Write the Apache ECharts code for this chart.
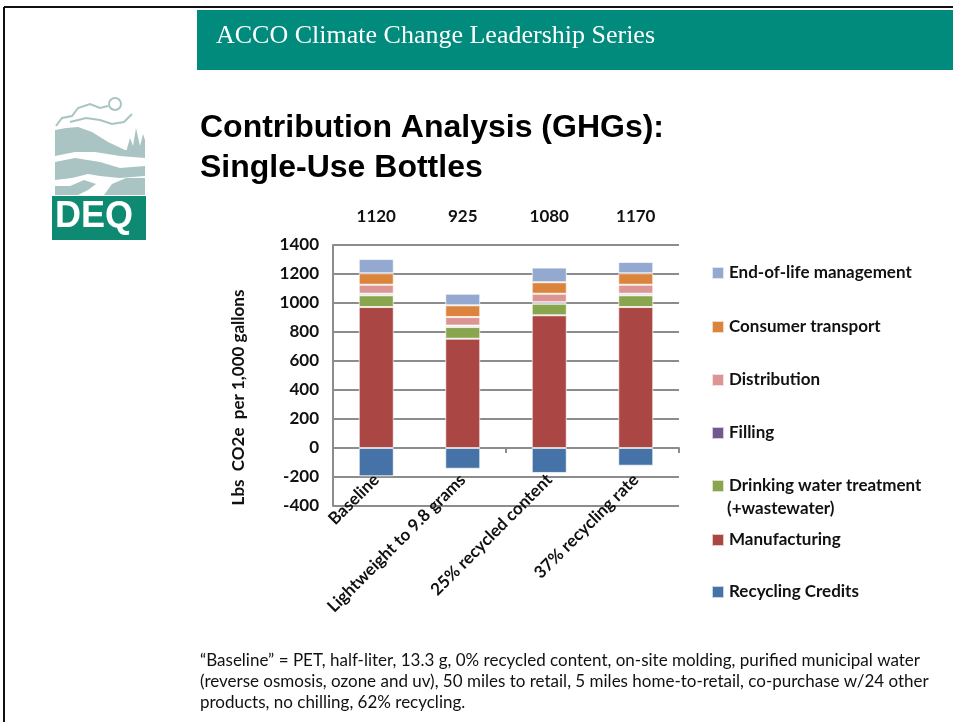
<!DOCTYPE html>
<html>
<head>
<meta charset="utf-8">
<script src="https://cdn.jsdelivr.net/npm/echarts@6/dist/echarts.min.js"></script>
<style>
  html, body { margin: 0; padding: 0; background: #fff; }
  #main { width: 953px; height: 722px; }
</style>
</head>
<body>
<div id="main"></div>
<script>
// categories and totals shown above each bar
const categories = ["Baseline", "Lightweight to 9.8 grams", "25% recycled content", "37% recycling rate"];
const totals = ["1120", "925", "1080", "1170"];

// stacked contributions, lbs CO2e per 1,000 gallons
const recyclingCredits = [-195, -143, -172, -122];
const manufacturing = [972, 754, 915, 972];
const drinkingWater = [81, 80, 80, 81];
const filling = [11, 10, 10, 11];
const distribution = [62, 59, 59, 62];
const consumerTransport = [79, 81, 79, 79];
const endOfLife = [98, 80, 101, 78];

const yTicks = { min: -400, max: 1400, interval: 200 };

let chart = echarts.init(document.getElementById("main"));

const labelFont = "Lato, 'Open Sans', sans-serif";
const gridColor = "#8c8c8c";

function bar(name, data, color) {
  return {
    name: name,
    type: "bar",
    stack: "total",
    barWidth: 35,
    itemStyle: { color: color, borderColor: "rgba(255,255,255,0.7)", borderWidth: 1 },
    data: data,
  };
}

// one legend per entry so the rows keep even spacing like the slide
const legendRows = [
  ["End-of-life management", 273],
  ["Consumer transport", 327],
  ["Distribution", 380],
  ["Filling", 433],
  ["Drinking water treatment", 486],
  ["Manufacturing", 540],
  ["Recycling Credits", 592],
];

let option = {
  animation: false,
  backgroundColor: "#fff",
  grid: { left: 333, right: 274, top: 245, bottom: 216 },
  legend: legendRows.map(function (r) {
    return {
      data: [r[0]],
      orient: "vertical",
      left: 711,
      top: r[1] - 10,
      padding: 0,
      icon: "rect",
      itemWidth: 12,
      itemHeight: 12,
      itemGap: 5,
      textStyle: { fontFamily: labelFont, fontWeight: "bold", fontSize: 17, color: "#111", lineHeight: 20 },
    };
  }),
  xAxis: [
    {
      type: "category",
      data: categories,
      axisLine: { onZero: true, lineStyle: { color: gridColor, width: 2 } },
      axisTick: { show: true, length: 5, lineStyle: { color: gridColor, width: 2 } },
      axisLabel: { show: false },
    },
    {
      type: "category",
      data: categories,
      position: "bottom",
      offset: -31,
      axisLine: { show: false },
      axisTick: { show: false },
      axisLabel: {
        rotate: 45,
        margin: 2,
        interval: 0,
        fontFamily: labelFont,
        fontWeight: "bold",
        fontSize: 17,
        color: "#111",
      },
    },
    {
      type: "category",
      data: totals,
      position: "top",
      axisLine: { show: false },
      axisTick: { show: false },
      axisLabel: {
        margin: 20,
        fontFamily: labelFont,
        fontWeight: "bold",
        fontSize: 17,
        color: "#111",
      },
    },
  ],
  yAxis: {
    type: "value",
    min: yTicks.min,
    max: yTicks.max,
    interval: yTicks.interval,
    name: "Lbs  CO2e  per 1,000 gallons",
    nameLocation: "middle",
    nameRotate: 90,
    nameGap: 86,
    nameTextStyle: { fontFamily: labelFont, fontWeight: "bold", fontSize: 17, color: "#111", padding: [0, 44, 0, 0] },
    axisLine: { show: true, lineStyle: { color: gridColor, width: 2 } },
    axisTick: { show: false },
    axisLabel: {
      fontFamily: labelFont, fontWeight: "bold", fontSize: 17, color: "#111", margin: 14,
      formatter: function (v) { return String(v); },
    },
    splitLine: { lineStyle: { color: gridColor, width: 2 } },
  },
  series: [
    bar("Recycling Credits", recyclingCredits, "#4572A7"),
    bar("Manufacturing", manufacturing, "#AA4643"),
    bar("Drinking water treatment", drinkingWater, "#89A54E"),
    bar("Filling", filling, "#71588F"),
    bar("Distribution", distribution, "#DB9694"),
    bar("Consumer transport", consumerTransport, "#DB843D"),
    bar("End-of-life management", endOfLife, "#93A9CF"),
  ],
  graphic: [
    // slide frame
    { type: "line", shape: { x1: 4, y1: 7, x2: 953, y2: 7 }, style: { stroke: "#111", lineWidth: 2 } },
    { type: "line", shape: { x1: 4, y1: 7, x2: 4, y2: 722 }, style: { stroke: "#111", lineWidth: 2 } },
    // header band
    { type: "rect", shape: { x: 197, y: 10, width: 756, height: 60 }, style: { fill: "#008B7D" } },
    {
      type: "text", left: 216, top: 23,
      style: { text: "ACCO Climate Change Leadership Series", fill: "#fff", font: "26px 'Liberation Serif', 'DejaVu Serif', serif" },
    },
    // title
    {
      type: "text", left: 200, top: 108,
      style: {
        text: "Contribution Analysis (GHGs):\nSingle-Use Bottles",
        fill: "#000",
        font: "bold 32px 'Liberation Sans', Arial, sans-serif",
        lineHeight: 40,
      },
    },
    // second line of the drinking water legend entry
    {
      type: "text", left: 727, top: 500,
      style: { text: "(+wastewater)", fill: "#111", font: "bold 17px Lato, 'Open Sans', sans-serif" },
    },
    // DEQ logo, rough shapes
    { type: "polyline", shape: { points: [[56, 126], [62, 118], [72, 116], [78, 108], [90, 104], [100, 108], [108, 106]] }, style: { stroke: "#a9c4c2", lineWidth: 2, fill: "none" } },
    { type: "polyline", shape: { points: [[70, 122], [86, 118], [100, 120], [112, 124], [124, 122], [132, 114]] }, style: { stroke: "#a9c4c2", lineWidth: 2, fill: "none" } },
    { type: "circle", shape: { cx: 115, cy: 104, r: 6 }, style: { fill: "none", stroke: "#a9c4c2", lineWidth: 2 } },
    { type: "polygon", shape: { points: [[55, 130], [66, 128], [78, 127], [92, 132], [108, 142], [125, 150], [145, 150], [145, 158], [120, 156], [95, 152], [75, 152], [55, 156]] }, style: { fill: "#a9c4c2" } },
    { type: "polygon", shape: { points: [[126, 152], [130, 138], [133, 146], [136, 128], [140, 146], [143, 134], [145, 140], [145, 152]] }, style: { fill: "#a9c4c2" } },
    { type: "polygon", shape: { points: [[55, 162], [75, 158], [100, 162], [120, 168], [145, 166], [145, 176], [120, 178], [100, 176], [88, 174], [72, 178], [55, 180]] }, style: { fill: "#a9c4c2" } },
    { type: "polygon", shape: { points: [[55, 186], [70, 186], [84, 180], [96, 184], [88, 190], [78, 195], [55, 195]] }, style: { fill: "#a9c4c2" } },
    { type: "polygon", shape: { points: [[104, 195], [112, 184], [126, 178], [145, 178], [145, 195]] }, style: { fill: "#a9c4c2" } },
    { type: "rect", shape: { x: 52, y: 196, width: 94, height: 44 }, style: { fill: "#0e8a73" } },
    {
      type: "text", left: 55, top: 199,
      style: { text: "DEQ", fill: "#fff", font: "bold 36px 'Liberation Sans', Arial, sans-serif" },
    },
    // footnote
    {
      type: "text", left: 200, top: 650,
      style: {
        text: "\u201cBaseline\u201d = PET, half-liter, 13.3 g, 0% recycled content, on-site molding, purified municipal water\n(reverse osmosis, ozone and uv), 50 miles to retail, 5 miles home-to-retail, co-purchase w/24 other\nproducts, no chilling, 62% recycling.",
        fill: "#111",
        font: "17px Lato, 'Open Sans', sans-serif",
        lineHeight: 21,
      },
    },
  ],
};

chart.setOption(option);
</script>
</body>
</html>
